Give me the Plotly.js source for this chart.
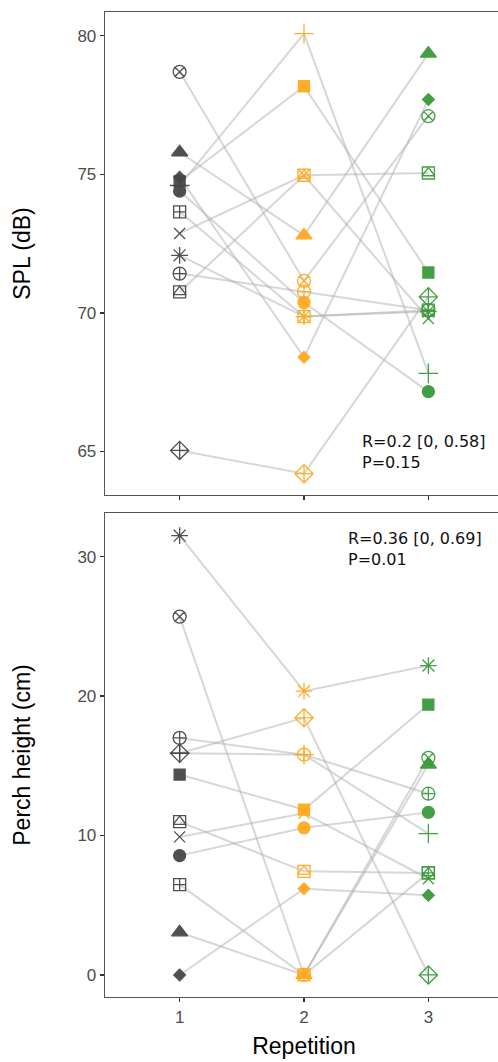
<!DOCTYPE html>
<html>
<head>
<meta charset="utf-8">
<script src="https://cdn.plot.ly/plotly-3.0.1.min.js"></script>
<style>
html, body { margin: 0; padding: 0; overflow: hidden; background: #fff; }
#chart { width: 506px; height: 1062px; }
</style>
</head>
<body>
<div id="chart"></div>
<script>
// ---------- data ----------
const repetitions = [1, 2, 3];
const repLabels = ['1', '2', '3'];
const individuals = ['circle-x', 'triangle', 'diamond', 'square', 'plus', 'circle',
                     'square-plus', 'x', 'asterisk', 'circle-plus', 'square-triangle', 'diamond-plus'];

const splRep1 = [78.7, 75.8, 74.9, 74.75, 74.6, 74.4, 73.65, 72.87, 72.08, 71.42, 70.76, 65.04];
const splRep2 = [71.16, 72.8, 68.4, 78.18, 80.08, 70.38, 69.87, 74.97, 69.87, 70.77, 74.97, 64.2];
const splRep3 = [77.1, 79.36, 77.7, 71.46, 67.82, 67.16, 70.1, 69.8, 70.05, 70.1, 75.05, 70.58];

const perchRep1 = [25.7, 3.06, 0, 14.37, 15.9, 8.56, 6.48, 9.9, 31.5, 17.0, 11.0, 15.9];
const perchRep2 = [0, 0, 6.19, 11.86, 15.8, 10.55, 0, 11.6, 20.35, 15.8, 7.43, 18.44];
const perchRep3 = [15.57, 15.09, 5.71, 19.39, 10.14, 11.66, 7.32, 6.9, 22.19, 13.0, 7.32, 0];

const splStatText = 'R=0.2 [0, 0.58]<br>P=0.15';
const perchStatText = 'R=0.36 [0, 0.69]<br>P=0.01';

// ---------- styles ----------
const repColors = ['#474747', '#FFA91F', '#3b9a3b'];
const lineColor = 'rgba(175,175,175,0.5)';
const symbolStyle = {
  'circle-x':        {symbol: 'circle-x-open',      size: 13},
  'triangle':        {symbol: 'triangle-up',        size: 14},
  'diamond':         {symbol: 'diamond',            size: 9},
  'square':          {symbol: 'square',             size: 11},
  'plus':            {symbol: 'cross-thin-open',    size: 14},
  'circle':          {symbol: 'circle',             size: 12},
  'square-plus':     {symbol: 'square-cross-open',  size: 12},
  'x':               {symbol: 'x-thin-open',        size: 11},
  'asterisk':        {symbol: 'asterisk-open',      size: 14},
  'circle-plus':     {symbol: 'circle-cross-open',  size: 13},
  'square-triangle': {symbol: 'square-open',        size: 12},
  'diamond-plus':    {symbol: 'diamond-cross-open', size: 14}
};

function panelTraces(rep1, rep2, rep3, xa, ya) {
  const series = [rep1, rep2, rep3];
  const traces = [];
  individuals.forEach((id, i) => {
    traces.push({
      type: 'scatter', mode: 'lines', xaxis: xa, yaxis: ya,
      x: repetitions, y: series.map(s => s[i]),
      line: {color: lineColor, width: 2}, hoverinfo: 'skip', showlegend: false
    });
  });
  series.forEach((vals, r) => {
    traces.push({
      type: 'scatter', mode: 'markers', xaxis: xa, yaxis: ya,
      x: vals.map(() => repetitions[r]), y: vals,
      marker: {
        symbol: individuals.map(id => symbolStyle[id].symbol),
        size: individuals.map(id => symbolStyle[id].size),
        color: repColors[r], opacity: 0.95,
        line: {color: repColors[r], width: 1.3}
      },
      showlegend: false, hoverinfo: 'skip'
    });
    const k = individuals.indexOf('square-triangle');
    traces.push({
      type: 'scatter', mode: 'markers', xaxis: xa, yaxis: ya,
      x: [repetitions[r]], y: [vals[k]],
      marker: {symbol: 'triangle-up-open', size: 11, color: repColors[r], opacity: 0.95,
               line: {color: repColors[r], width: 1.3}},
      showlegend: false, hoverinfo: 'skip'
    });
  });
  return traces;
}

const data = [].concat(
  panelTraces(splRep1, splRep2, splRep3, 'x2', 'y2'),
  panelTraces(perchRep1, perchRep2, perchRep3, 'x', 'y')
);

const tickFont = {family: 'Liberation Sans, Arial, sans-serif', size: 17, color: '#4d4d4d'};
const titleFont = {family: 'Liberation Sans, Arial, sans-serif', size: 23, color: '#000'};
const axisCommon = {
  showline: true, mirror: true, linecolor: '#555', linewidth: 1.3,
  ticks: 'outside', ticklen: 4, tickcolor: '#333', tickwidth: 1.3,
  showgrid: false, zeroline: false, tickfont: tickFont
};

const layout = {
  width: 506, height: 1062,
  margin: {l: 105, r: 3, t: 12, b: 65},
  paper_bgcolor: '#fff', plot_bgcolor: '#fff',
  showlegend: false,
  xaxis: Object.assign({}, axisCommon, {
    domain: [0, 1], anchor: 'y', range: [0.4, 3.6],
    tickvals: repetitions, ticktext: repLabels,
    title: {text: 'Repetition', font: titleFont, standoff: 12}
  }),
  yaxis: Object.assign({}, axisCommon, {
    domain: [0, 0.4914], anchor: 'x', range: [-1.58, 33.13],
    tickvals: [0, 10, 20, 30],
    title: {text: 'Perch height (cm)', font: titleFont, standoff: 40}
  }),
  xaxis2: Object.assign({}, axisCommon, {
    domain: [0, 1], anchor: 'y2', range: [0.4, 3.6],
    tickvals: repetitions, showticklabels: false
  }),
  yaxis2: Object.assign({}, axisCommon, {
    domain: [0.5096, 1], anchor: 'x2', range: [63.43, 80.86],
    tickvals: [65, 70, 75, 80],
    title: {text: 'SPL (dB)', font: titleFont, standoff: 40}
  }),
  annotations: [
    {xref: 'x2', yref: 'y2', x: 2.45, y: 64.97, text: splStatText, showarrow: false,
     xanchor: 'left', yanchor: 'middle', align: 'left',
     font: {family: 'DejaVu Sans', size: 16, color: '#111'}},
    {xref: 'x', yref: 'y', x: 2.34, y: 30.55, text: perchStatText, showarrow: false,
     xanchor: 'left', yanchor: 'middle', align: 'left',
     font: {family: 'DejaVu Sans', size: 16, color: '#111'}}
  ]
};

Plotly.newPlot('chart', data, layout, {displayModeBar: false, staticPlot: true});
</script>
</body>
</html>
